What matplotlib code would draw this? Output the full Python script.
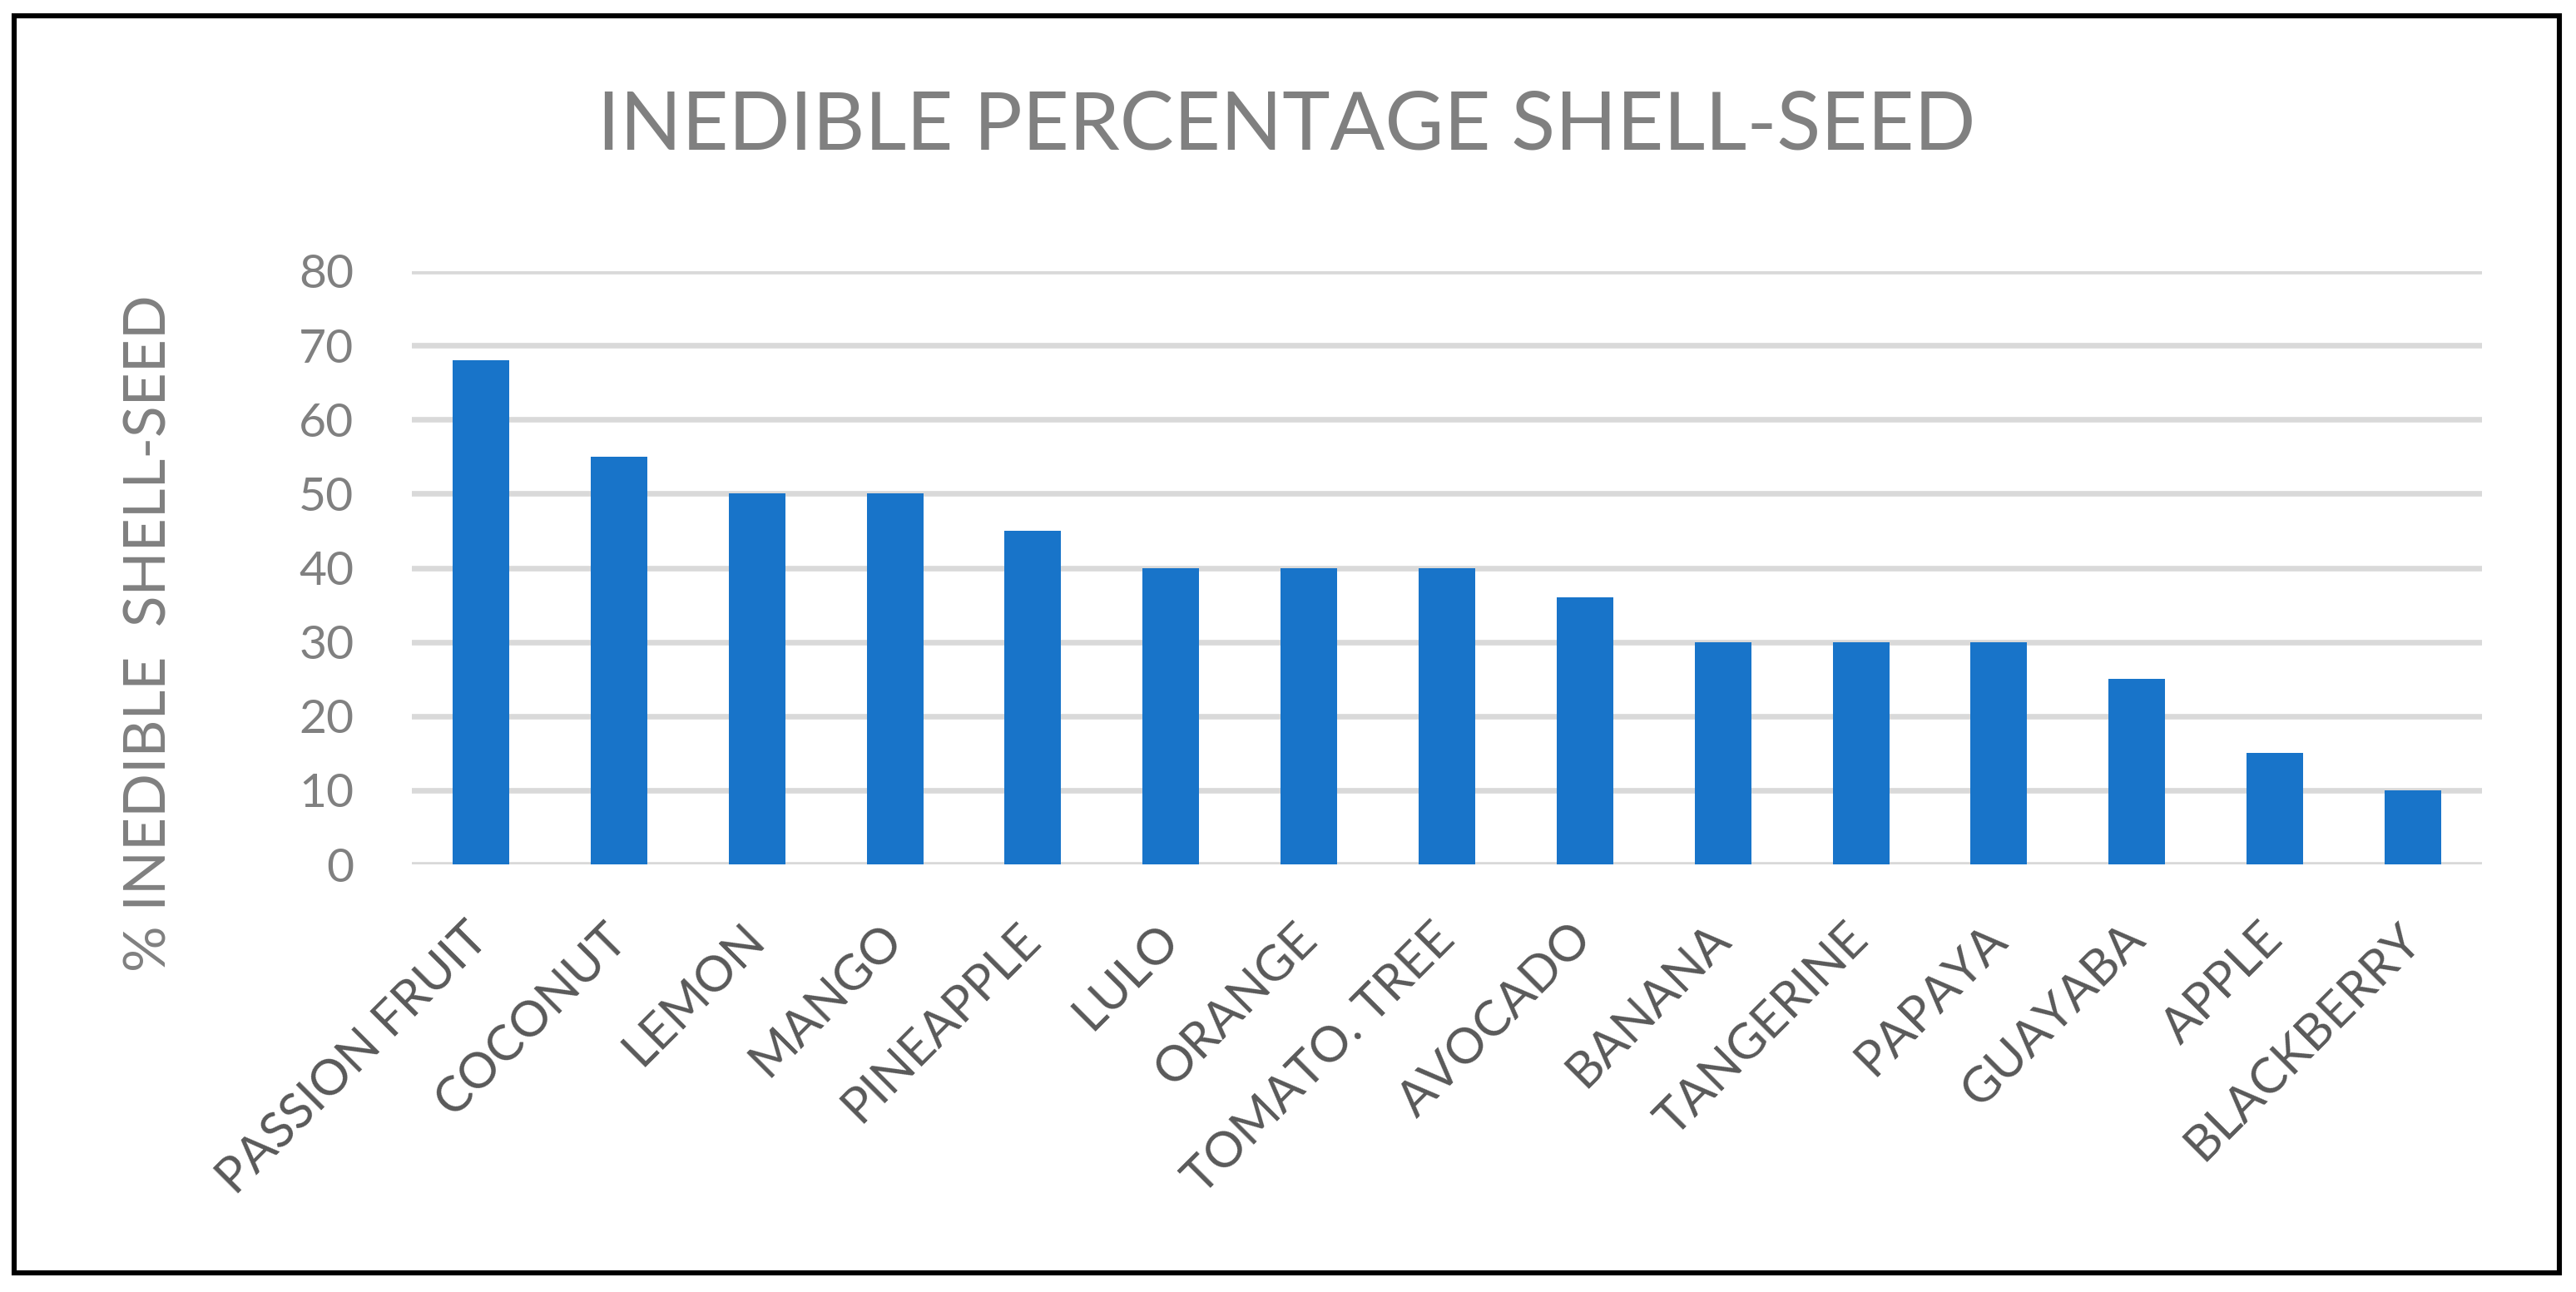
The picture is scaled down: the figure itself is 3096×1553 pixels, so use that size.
import matplotlib
matplotlib.use("Agg")
import matplotlib.pyplot as plt
from matplotlib.patches import Rectangle

fruits = ["PASSION FRUIT", "COCONUT", "LEMON", "MANGO", "PINEAPPLE", "LULO",
          "ORANGE", "TOMATO. TREE", "AVOCADO", "BANANA", "TANGERINE",
          "PAPAYA", "GUAYABA", "APPLE", "BLACKBERRY"]
inedible_pct = [68, 55, 50, 50, 45, 40, 40, 40, 36, 30, 30, 30, 25, 15, 10]
y_ticks = [0, 10, 20, 30, 40, 50, 60, 70, 80]

plt.rcParams['font.family'] = ['Lato', 'DejaVu Sans']

W, H, dpi = 3096, 1553, 200
fig = plt.figure(figsize=(W / dpi, H / dpi), dpi=dpi)
ax = fig.add_axes([495 / W, 1 - 1039 / H, (2983 - 495) / W, (1039 - 326) / H])

x = list(range(len(fruits)))
ax.bar(x, inedible_pct, width=0.41, color='#1874C9', zorder=2)

ax.set_xlim(-0.5, len(fruits) - 0.5)
ax.set_ylim(0, 80)
ax.set_yticks(y_ticks)
ax.set_yticklabels([str(v) for v in y_ticks], fontsize=20.5, color='#808080')
ax.set_xticks(x)
ax.set_xticklabels(fruits, rotation=45, ha='right', va='center',
                   rotation_mode='anchor', fontsize=21.5, color='#595959')
ax.tick_params(axis='y', length=0, pad=25)
ax.tick_params(axis='x', length=0, pad=29)

ax.grid(axis='y', color='#D9D9D9', linewidth=2.4, zorder=0)
ax.set_axisbelow(True)
for s in ax.spines.values():
    s.set_visible(False)

ax.set_ylabel('% INEDIBLE  SHELL-SEED', fontsize=25, color='#808080')
ax.yaxis.set_label_coords(-(495 - 212) / (2983 - 495), 0.39)

fig.text(1546 / W, 1 - 153 / H, 'INEDIBLE PERCENTAGE SHELL-SEED', ha='center',
         va='center', fontsize=35, color='#808080')

fig.patches.append(Rectangle((17 / W, 1 - 1530 / H), (3076 - 17) / W, (1530 - 19) / H,
                             transform=fig.transFigure, fill=False,
                             edgecolor='black', linewidth=2.2))

fig.savefig('out.png', dpi=dpi, facecolor='white')
